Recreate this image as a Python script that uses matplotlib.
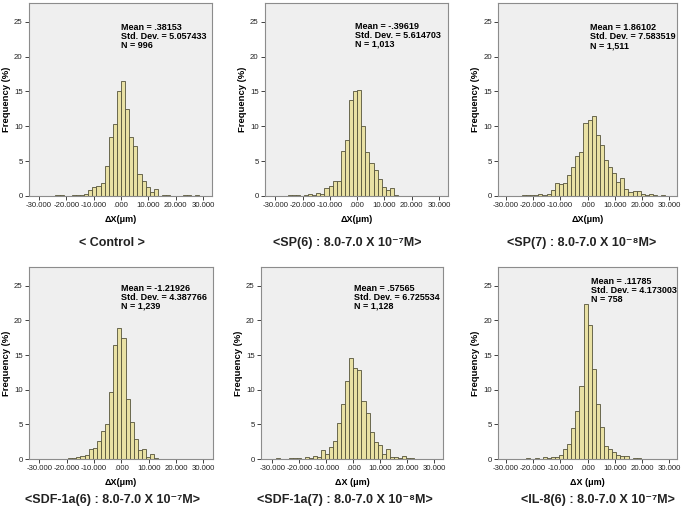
import matplotlib
matplotlib.use("Agg")
import matplotlib.pyplot as plt

plt.rcParams["font.family"] = ["Liberation Sans", "DejaVu Sans"]

BIN_WIDTH = 1.5

# percent of cells per 1.5 um bin, first value is the bin starting at *_start
control_start = -24.0
control_pct = [0.1, 0.1, 0, 0, 0.1, 0.2, 0.2, 0.3, 0.9, 1.35, 1.45, 1.9, 4.3, 8.5,
               10.3, 15.1, 16.5, 12.5, 8.4, 7.2, 3.2, 2.2, 1.35, 0.6, 1.05, 0, 0.1,
               0.1, 0, 0, 0, 0.1, 0.2, 0, 0.1]

sp6_start = -25.5
sp6_pct = [0.1, 0.1, 0.1, 0, 0.1, 0.3, 0.2, 0.5, 0.35, 1.15, 1.5, 2.15, 2.1, 6.5,
           8.0, 13.8, 15.0, 15.2, 10.0, 6.3, 4.7, 3.75, 2.4, 1.35, 0.85, 1.15, 0.1]

sp7_start = -28.5
sp7_pct = [0.05, 0.05, 0, 0.1, 0.1, 0.1, 0.15, 0.35, 0.2, 0.25, 0.85, 1.9, 1.7,
           1.9, 3.0, 4.2, 5.75, 6.3, 10.5, 10.95, 11.5, 8.75, 7.35, 5.2, 4.2, 3.25,
           2.0, 2.55, 1.05, 0.6, 0.65, 0.65, 0.25, 0.1, 0.25, 0.15, 0, 0.1]

sdf6_start = -24.0
sdf6_pct = [0.05, 0.05, 0, 0.1, 0.2, 0.35, 0.5, 0.6, 1.4, 1.55, 2.6, 4.0, 5.1, 9.7,
            16.5, 18.9, 17.5, 8.6, 5.4, 2.85, 1.3, 1.45, 0.35, 0.75, 0.1]

sdf7_start = -28.5
sdf7_pct = [0.15, 0, 0.05, 0.1, 0.1, 0.1, 0.05, 0.25, 0.2, 0.4, 0.25, 1.3, 0.7,
            1.8, 2.6, 5.15, 7.9, 11.3, 14.6, 13.15, 12.8, 8.3, 6.6, 3.95, 2.4, 2.0,
            0.7, 1.45, 0.25, 0.25, 0.1, 0.45, 0.1, 0.1, 0.05, 0, 0, 0.05]

il8_start = -22.5
il8_pct = [0.15, 0, 0.1, 0, 0.3, 0.2, 0.3, 0.3, 0.55, 1.45, 2.15, 4.5, 6.9, 10.5,
           22.3, 19.3, 13.0, 8.0, 4.6, 1.85, 1.5, 1.05, 0.55, 0.4, 0.4, 0, 0.15, 0.15]

stats = [
    "Mean = .38153\nStd. Dev. = 5.057433\nN = 996",
    "Mean = -.39619\nStd. Dev. = 5.614703\nN = 1,013",
    "Mean = 1.86102\nStd. Dev. = 7.583519\nN = 1,511",
    "Mean = -1.21926\nStd. Dev. = 4.387766\nN = 1,239",
    "Mean = .57565\nStd. Dev. = 6.725534\nN = 1,128",
    "Mean = .11785\nStd. Dev. = 4.173003\nN = 758",
]
captions = [
    "< Control >",
    "<SP(6) : 8.0-7.0 X 10\u207b\u2077M>",
    "<SP(7) : 8.0-7.0 X 10\u207b\u2078M>",
    "<SDF-1a(6) : 8.0-7.0 X 10\u207b\u2077M>",
    "<SDF-1a(7) : 8.0-7.0 X 10\u207b\u2078M>",
    "<IL-8(6) : 8.0-7.0 X 10\u207b\u2077M>",
]
xlabels = ["ΔX(μm)", "ΔX(μm)", "ΔX(μm)", "ΔX(μm)", "ΔX (μm)", "ΔX (μm)"]
x_ticks = [-30, -20, -10, 0, 10, 20, 30]
x_ticklabels = ["-30.000", "-20.000", "-10.000", ".000", "10.000", "20.000", "30.000"]

panels = [
    (control_start, control_pct),
    (sp6_start, sp6_pct),
    (sp7_start, sp7_pct),
    (sdf6_start, sdf6_pct),
    (sdf7_start, sdf7_pct),
    (il8_start, il8_pct),
]

W, H = 685, 515
# pixel boxes: left, right, top, bottom
boxes = [(29, 212, 3, 196), (265, 448, 3, 196), (498, 677, 3, 196),
         (29, 213, 267, 459), (261, 443, 267, 459), (498, 677, 267, 459)]
xlims = [(-33.7, 33.3), (-33.8, 33.3), (-32.8, 32.8),
         (-33.8, 33.5), (-34.2, 33.2), (-32.9, 32.8)]
stat_pos = [(121, 23), (355, 22), (590, 23), (121, 284), (354, 284), (591, 277)]
caption_pos = [(112, 243), (347, 243), (582, 243), (113, 500), (345, 500), (598, 500)]

fig = plt.figure(figsize=(W / 100, H / 100), dpi=100, facecolor="white")

for i, (start, pct) in enumerate(panels):
    l, r, t, b = boxes[i]
    ax = fig.add_axes([l / W, 1 - b / H, (r - l) / W, (b - t) / H])
    ax.set_facecolor("#EFEFEF")
    lefts = [start + k * BIN_WIDTH for k in range(len(pct))]
    ax.bar(lefts, pct, width=BIN_WIDTH, align="edge", color="#E9E1A4",
           edgecolor="#55533A", linewidth=0.6)
    ax.set_xlim(*xlims[i])
    ax.set_ylim(0, 27.7)
    ax.set_xticks(x_ticks)
    ax.set_xticklabels(x_ticklabels)
    ax.set_yticks([0, 5, 10, 15, 20, 25])
    ax.tick_params(labelsize=5.6, length=3, width=0.6, pad=1.5, colors="#222222")
    for s in ax.spines.values():
        s.set_color("#8C8C8C")
        s.set_linewidth(0.8)
    ax.set_ylabel("Frequency (%)", fontsize=6.8, fontweight="bold", labelpad=2)
    ax.set_xlabel(xlabels[i], fontsize=6.5, fontweight="bold", labelpad=4)

    sx, sy = stat_pos[i]
    fig.text(sx / W, 1 - sy / H, stats[i], fontsize=6.5, fontweight="bold",
             va="top", ha="left", linespacing=1.0)
    cx, cy = caption_pos[i]
    fig.text(cx / W, 1 - cy / H, captions[i], fontsize=9, fontweight="bold",
             va="center", ha="center", color="#222222")

fig.savefig("out.png", dpi=100, facecolor="white")
